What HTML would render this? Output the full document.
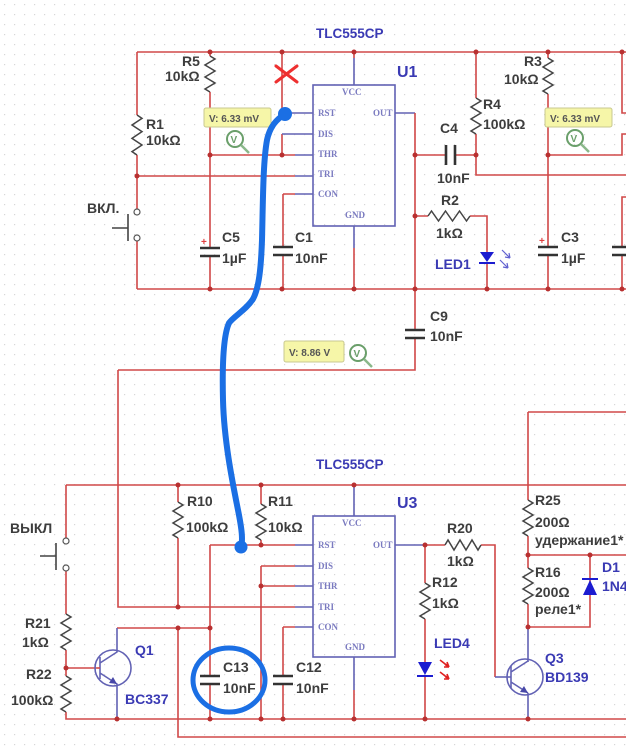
<!DOCTYPE html>
<html><head><meta charset="utf-8">
<style>
html,body{margin:0;padding:0;background:#fff;}
svg{display:block;}
.w{stroke:#d04848;stroke-width:1.6;fill:none;}
.b{stroke:#6262b4;stroke-width:1.6;fill:none;}
.r{stroke:#444;stroke-width:1.5;fill:none;stroke-linejoin:miter;}
.c{stroke:#333;stroke-width:2.6;}
.t{font-family:"Liberation Sans",sans-serif;font-size:14px;font-weight:bold;fill:#3d3d3d;}
.tb{font-family:"Liberation Sans",sans-serif;font-size:14px;font-weight:bold;fill:#3a3ab4;}
.p{font-family:"Liberation Serif",serif;font-size:9px;font-weight:bold;fill:#7a7ac0;}
.pr{font-family:"Liberation Sans",sans-serif;font-size:10px;font-weight:bold;fill:#555;}
.d{fill:#b83030;}
</style></head>
<body>
<svg width="626" height="750" viewBox="0 0 626 750" xmlns="http://www.w3.org/2000/svg">
<defs>
<pattern id="g" width="10" height="10" patternUnits="userSpaceOnUse">
<rect x="4" y="4" width="1.2" height="1.2" fill="#d6d6d6"/>
</pattern>
</defs>
<rect width="626" height="750" fill="#fff"/>
<rect width="626" height="750" fill="url(#g)"/>

<!-- ===== TOP SECTION WIRES ===== -->
<path class="w" d="M137 52 H626"/>
<path class="w" d="M137 289 H626"/>
<path class="w" d="M137 52 V115 M137 155 V209 M137 241 V289"/>
<path class="w" d="M137 176 H295"/>
<path class="b" d="M295 176 H313"/>
<path class="w" d="M210 52 V56 M210 92 V248 M210 256 V289"/>
<path class="w" d="M210 155 H295"/>
<path class="b" d="M295 155 H313"/>
<path class="w" d="M282 52 V113 M282 134 V155"/>
<path class="b" d="M284 113 H313 M282 134 H313"/>
<path class="w" d="M283 194 H295 M283 194 V247 M283 255 V289"/>
<path class="b" d="M295 194 H313"/>
<path class="w" d="M354 52 V58"/>
<path class="b" d="M354 58 V85 M354 226 V248"/>
<path class="w" d="M354 248 V289"/>
<path class="b" d="M395 113 H415"/>
<path class="w" d="M415 113 V329 M415 338 V370 H118"/>
<path class="w" d="M415 155 H446 M455 155 H476"/>
<path class="w" d="M476 52 V98 M476 134 V175 H626"/>
<path class="w" d="M415 216 H428 M470 216 H487 V252 M487 263 V289"/>
<path class="w" d="M548 52 V58 M548 94 V247 M548 255 V289"/>
<path class="w" d="M548 155 H622 V134 H626"/>
<path class="w" d="M622 52 V113 H626"/>
<path class="w" d="M626 197 H622 V247 M622 255 V289"/>

<!-- U1 chip -->
<rect x="313" y="85" width="82" height="141" class="b" fill="none"/>
<text class="p" x="342" y="95">VCC</text>
<text class="p" x="318" y="116">RST</text>
<text class="p" x="373" y="116">OUT</text>
<text class="p" x="318" y="137">DIS</text>
<text class="p" x="318" y="157">THR</text>
<text class="p" x="318" y="177">TRI</text>
<text class="p" x="318" y="197">CON</text>
<text class="p" x="345" y="218">GND</text>
<text class="tb" x="316" y="38" style="font-size:13.5px">TLC555CP</text>
<text class="tb" x="397" y="77" style="font-size:16px">U1</text>

<!-- top resistors -->
<path class="r" d="M137 115 l5 3.33 l-10 6.67 l10 6.67 l-10 6.67 l10 6.67 l-10 6.67 l5 3.33"/>
<path class="r" d="M210 56 l5 3 l-10 6 l10 6 l-10 6 l10 6 l-10 6 l5 3"/>
<path class="r" d="M476 98 l5 3 l-10 6 l10 6 l-10 6 l10 6 l-10 6 l5 3"/>
<path class="r" d="M548 58 l5 3 l-10 6 l10 6 l-10 6 l10 6 l-10 6 l5 3"/>
<path class="r" d="M428 216 l3.5 -5 l7 10 l7 -10 l7 10 l7 -10 l7 10 l3.5 -5"/>

<!-- top caps -->
<path class="c" d="M200 248 H220 M200 256 H220"/>
<text x="201" y="245" style="font:bold 10px 'Liberation Sans',sans-serif;fill:#e04040">+</text>
<path class="c" d="M273 247 H293 M273 255 H293"/>
<path class="c" d="M446 145 V165 M455 145 V165"/>
<path class="c" d="M538 247 H558 M538 255 H558"/>
<text x="539" y="244" style="font:bold 10px 'Liberation Sans',sans-serif;fill:#e04040">+</text>
<path class="c" d="M612 247 H632 M612 255 H632"/>
<path class="c" d="M405 330 H425 M405 338 H425"/>

<!-- top switch -->
<circle cx="137" cy="212" r="3" fill="#fff" stroke="#555" stroke-width="1.2"/>
<circle cx="137" cy="238" r="3" fill="#fff" stroke="#555" stroke-width="1.2"/>
<path d="M128 214 V241 M112 228 H128" stroke="#444" stroke-width="1.6" fill="none"/>

<!-- LED1 -->
<path d="M480 252 H494 L487 262 Z" fill="#1c1cd0"/>
<path d="M479 263 H495" stroke="#1c1cd0" stroke-width="2"/>
<path d="M502 250 l8 8 m0 0 l-1 -5 m1 5 l-5 -1 M500 260 l8 8 m0 0 l-1 -5 m1 5 l-5 -1" stroke="#6060d0" stroke-width="1.2" fill="none"/>

<!-- top dots -->
<g class="d">
<circle cx="210" cy="52" r="2.5"/><circle cx="282" cy="52" r="2.5"/><circle cx="354" cy="52" r="2.5"/>
<circle cx="476" cy="52" r="2.5"/><circle cx="548" cy="52" r="2.5"/><circle cx="622" cy="52" r="2.5"/>
<circle cx="137" cy="176" r="2.5"/><circle cx="210" cy="155" r="2.5"/><circle cx="282" cy="155" r="2.5"/>
<circle cx="415" cy="155" r="2.5"/><circle cx="476" cy="155" r="2.5"/><circle cx="548" cy="155" r="2.5"/>
<circle cx="415" cy="216" r="2.5"/>
<circle cx="210" cy="289" r="2.5"/><circle cx="282" cy="289" r="2.5"/><circle cx="354" cy="289" r="2.5"/>
<circle cx="415" cy="289" r="2.5"/><circle cx="487" cy="289" r="2.5"/><circle cx="548" cy="289" r="2.5"/>
<circle cx="622" cy="289" r="2.5"/>
</g>

<!-- top labels -->
<text class="t" x="182" y="66">R5</text>
<text class="t" x="165" y="81">10kΩ</text>
<text class="t" x="146" y="129">R1</text>
<text class="t" x="146" y="145">10kΩ</text>
<text class="t" x="87" y="213">ВКЛ.</text>
<text class="t" x="222" y="242">C5</text>
<text class="t" x="222" y="263">1µF</text>
<text class="t" x="295" y="242">C1</text>
<text class="t" x="295" y="263">10nF</text>
<text class="t" x="440" y="133">C4</text>
<text class="t" x="437" y="183">10nF</text>
<text class="t" x="483" y="109">R4</text>
<text class="t" x="483" y="129">100kΩ</text>
<text class="t" x="524" y="66">R3</text>
<text class="t" x="504" y="84">10kΩ</text>
<text class="t" x="441" y="205">R2</text>
<text class="t" x="436" y="238">1kΩ</text>
<text class="tb" x="435" y="269">LED1</text>
<text class="t" x="561" y="242">C3</text>
<text class="t" x="561" y="263">1µF</text>
<text class="t" x="430" y="321">C9</text>
<text class="t" x="430" y="341">10nF</text>

<!-- probes -->
<rect x="204" y="108" width="67" height="19" fill="#f6f6a8" stroke="#c8c890" stroke-width="1" rx="2"/>
<text class="pr" x="209" y="122">V: 6.33 mV</text>
<circle cx="235" cy="139" r="8" fill="none" stroke="#6a9f6a" stroke-width="2"/>
<text x="230.5" y="143" style="font:bold 10px 'Liberation Sans',sans-serif;fill:#6a9f6a">V</text>
<path d="M241 145 L249 153" stroke="#8ab88a" stroke-width="2.5"/>

<rect x="545" y="108" width="67" height="19" fill="#f6f6a8" stroke="#c8c890" stroke-width="1" rx="2"/>
<text class="pr" x="550" y="122">V: 6.33 mV</text>
<circle cx="575" cy="138" r="8" fill="none" stroke="#6a9f6a" stroke-width="2"/>
<text x="570.5" y="142" style="font:bold 10px 'Liberation Sans',sans-serif;fill:#6a9f6a">V</text>
<path d="M581 144 L589 152" stroke="#8ab88a" stroke-width="2.5"/>

<rect x="284" y="341" width="60" height="21" fill="#f6f6a8" stroke="#c8c890" stroke-width="1" rx="2"/>
<text class="pr" x="289" y="356">V: 8.86 V</text>
<circle cx="358" cy="353" r="8" fill="none" stroke="#6a9f6a" stroke-width="2"/>
<text x="353.5" y="357" style="font:bold 10px 'Liberation Sans',sans-serif;fill:#6a9f6a">V</text>
<path d="M364 359 L372 367" stroke="#8ab88a" stroke-width="2.5"/>

<!-- ===== BOTTOM SECTION ===== -->
<path class="w" d="M66 485 H626"/>
<path class="w" d="M66 485 V538 M66 571 V614 M66 650 V676 M66 712 V719 H626"/>
<path class="w" d="M66 668 H97"/>
<path class="w" d="M118 370 V607 H295"/>
<path class="b" d="M295 607 H313"/>
<path class="w" d="M117 628 H210"/>
<path class="w" d="M178 485 V502 M178 538 V607 M178 628 V737 H626"/>
<path class="w" d="M210 545 H295 M210 545 V676 M210 684 V719"/>
<path class="b" d="M295 545 H313"/>
<path class="w" d="M261 485 V504 M261 540 V545"/>
<path class="w" d="M261 566 H295 M261 566 V719 M261 586 H295"/>
<path class="b" d="M295 566 H313 M295 586 H313"/>
<path class="w" d="M283 627 H295 M283 627 V676 M283 684 V719"/>
<path class="b" d="M295 627 H313"/>
<path class="b" d="M354 485 V516 M354 657 V690"/>
<path class="w" d="M354 690 V719"/>
<path class="b" d="M395 545 H425"/>
<path class="w" d="M425 545 H445 M481 545 H495 V677"/>
<path class="b" d="M495 677 H511"/>
<path class="w" d="M425 545 V583 M425 619 V662 M425 676 V719"/>
<path class="w" d="M528 412 H626 M528 412 V500 M528 536 V568 M528 604 V627"/>
<path class="w" d="M528 555 H626 M590 555 V627 H528"/>
<path class="b" d="M528 627 V662 M528 693 V719"/>

<!-- U3 chip -->
<rect x="313" y="516" width="82" height="141" class="b" fill="none"/>
<text class="p" x="342" y="526">VCC</text>
<text class="p" x="318" y="548">RST</text>
<text class="p" x="373" y="548">OUT</text>
<text class="p" x="318" y="569">DIS</text>
<text class="p" x="318" y="589">THR</text>
<text class="p" x="318" y="610">TRI</text>
<text class="p" x="318" y="630">CON</text>
<text class="p" x="345" y="650">GND</text>
<text class="tb" x="316" y="469" style="font-size:13.5px">TLC555CP</text>
<text class="tb" x="397" y="508" style="font-size:16px">U3</text>

<!-- bottom resistors -->
<path class="r" d="M178 502 l5 3 l-10 6 l10 6 l-10 6 l10 6 l-10 6 l5 3"/>
<path class="r" d="M261 504 l5 3 l-10 6 l10 6 l-10 6 l10 6 l-10 6 l5 3"/>
<path class="r" d="M66 614 l5 3 l-10 6 l10 6 l-10 6 l10 6 l-10 6 l5 3"/>
<path class="r" d="M66 676 l5 3 l-10 6 l10 6 l-10 6 l10 6 l-10 6 l5 3"/>
<path class="r" d="M425 583 l5 3 l-10 6 l10 6 l-10 6 l10 6 l-10 6 l5 3"/>
<path class="r" d="M528 500 l5 3 l-10 6 l10 6 l-10 6 l10 6 l-10 6 l5 3"/>
<path class="r" d="M528 568 l5 3 l-10 6 l10 6 l-10 6 l10 6 l-10 6 l5 3"/>
<path class="r" d="M445 545 l3 -5 l6 10 l6 -10 l6 10 l6 -10 l6 10 l3 -5"/>

<!-- bottom caps -->
<path class="c" d="M200 676 H220 M200 684 H220"/>
<path class="c" d="M273 676 H293 M273 684 H293"/>

<!-- bottom switch -->
<circle cx="66" cy="541" r="3" fill="#fff" stroke="#555" stroke-width="1.2"/>
<circle cx="66" cy="568" r="3" fill="#fff" stroke="#555" stroke-width="1.2"/>
<path d="M56 543 V570 M40 556 H56" stroke="#444" stroke-width="1.6" fill="none"/>

<!-- Q1 -->
<circle cx="113" cy="668" r="18" fill="none" stroke="#6262b4" stroke-width="1.6"/>
<path d="M100 657 V679 M100 663 L117 652 V628 M100 673 L117 684 V719" stroke="#6262b4" stroke-width="1.6" fill="none"/>
<path d="M97 668 H100" class="w"/>
<path d="M117 684 L109 683 L113 677 Z" fill="#4848a8"/>

<!-- Q3 -->
<circle cx="525" cy="677" r="18" fill="none" stroke="#6262b4" stroke-width="1.6"/>
<path d="M511 666 V688 M511 672 L528 661 M511 682 L528 693" stroke="#6262b4" stroke-width="1.6" fill="none"/>
<path d="M528 693 L520 692 L524 686 Z" fill="#4848a8"/>

<!-- LED4 -->
<path d="M418 662 H432 L425 675 Z" fill="#1c1cd0"/>
<path d="M417 676 H433" stroke="#1c1cd0" stroke-width="2"/>
<path d="M440 660 l9 7 m0 0 l-2 -5 m2 5 l-5 0 M440 672 l9 7 m0 0 l-2 -5 m2 5 l-5 0" stroke="#e02020" stroke-width="1.6" fill="none"/>
<path d="M449 667 l-4 -1 l2 -3 Z M449 679 l-4 -1 l2 -3 Z" fill="#e02020"/>

<!-- D1 -->
<path d="M583 595 H597 L590 580 Z" fill="#1c1cd0"/>
<path d="M582 579 H598" stroke="#1c1cd0" stroke-width="2"/>

<!-- bottom dots -->
<g class="d">
<circle cx="178" cy="485" r="2.5"/><circle cx="261" cy="485" r="2.5"/><circle cx="354" cy="485" r="2.5"/>
<circle cx="261" cy="545" r="2.5"/><circle cx="261" cy="586" r="2.5"/>
<circle cx="178" cy="607" r="2.5"/><circle cx="178" cy="628" r="2.5"/><circle cx="210" cy="628" r="2.5"/>
<circle cx="66" cy="668" r="2.5"/><circle cx="425" cy="545" r="2.5"/>
<circle cx="528" cy="555" r="2.5"/><circle cx="590" cy="555" r="2.5"/><circle cx="528" cy="627" r="2.5"/>
<circle cx="117" cy="719" r="2.5"/><circle cx="210" cy="719" r="2.5"/><circle cx="261" cy="719" r="2.5"/>
<circle cx="283" cy="719" r="2.5"/><circle cx="354" cy="719" r="2.5"/><circle cx="425" cy="719" r="2.5"/>
<circle cx="528" cy="719" r="2.5"/>
</g>

<!-- bottom labels -->
<text class="t" x="187" y="506">R10</text>
<text class="t" x="186" y="532">100kΩ</text>
<text class="t" x="268" y="506">R11</text>
<text class="t" x="268" y="532">10kΩ</text>
<text class="t" x="10" y="533">ВЫКЛ</text>
<text class="t" x="25" y="628">R21</text>
<text class="t" x="22" y="647">1kΩ</text>
<text class="t" x="26" y="679">R22</text>
<text class="t" x="11" y="705">100kΩ</text>
<text class="tb" x="135" y="655">Q1</text>
<text class="tb" x="125" y="704">BC337</text>
<text class="t" x="223" y="672">C13</text>
<text class="t" x="223" y="693">10nF</text>
<text class="t" x="296" y="672">C12</text>
<text class="t" x="296" y="693">10nF</text>
<text class="t" x="447" y="533">R20</text>
<text class="t" x="447" y="566">1kΩ</text>
<text class="t" x="432" y="587">R12</text>
<text class="t" x="432" y="608">1kΩ</text>
<text class="tb" x="434" y="648">LED4</text>
<text class="t" x="535" y="505">R25</text>
<text class="t" x="535" y="527">200Ω</text>
<text class="t" x="535" y="545">удержание1*</text>
<text class="t" x="535" y="577">R16</text>
<text class="t" x="535" y="597">200Ω</text>
<text class="t" x="535" y="614">реле1*</text>
<text class="tb" x="602" y="572">D1</text>
<text class="tb" x="602" y="591">1N4007</text>
<text class="tb" x="545" y="663">Q3</text>
<text class="tb" x="545" y="682">BD139</text>

<!-- ===== annotations ===== -->
<path d="M276 66 L297 82 M297 66 L276 82" stroke="#ee3030" stroke-width="3" stroke-linecap="round"/>
<path d="M285 114 C277 119, 270 126, 267 140 C263 162, 263 200, 262 240 C261 268, 259 288, 253 299 C246 310, 234 316, 229 323 C224 334, 222 360, 223 400 C224 440, 232 480, 238 510 C242 530, 243 540, 241 547" stroke="#1b6fe4" stroke-width="6" fill="none" stroke-linecap="round" stroke-linejoin="round"/>
<circle cx="285" cy="114" r="7" fill="#1b6fe4"/>
<circle cx="241" cy="547" r="6.5" fill="#1b6fe4"/>
<ellipse cx="229" cy="680" rx="36" ry="32" fill="none" stroke="#1b6fe4" stroke-width="5"/>
</svg>
</body></html>
